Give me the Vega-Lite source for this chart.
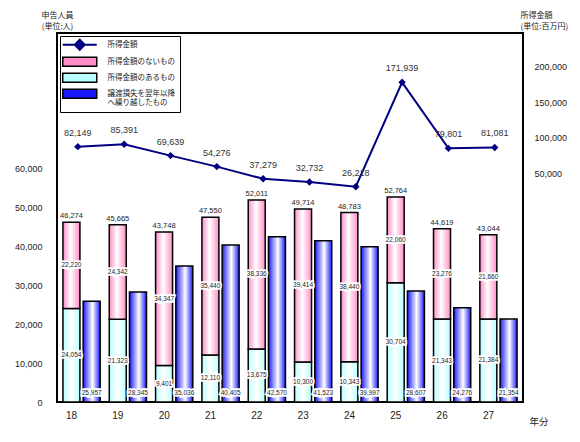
{
  "$schema": "https://vega.github.io/schema/vega-lite/v6.json",
  "width": 466,
  "height": 369,
  "autosize": {"type": "none"},
  "padding": {"left": 57, "top": 33, "right": 57, "bottom": 40},
  "background": "white",
  "config": {
    "view": {"stroke": "#000", "strokeWidth": 2},
    "axis": {"grid": false, "ticks": false, "domain": false, "labelFont": "Liberation Sans", "titleFont": "Noto Sans CJK JP", "labelColor": "#222", "titleColor": "#222", "titleFontWeight": "normal"},
    "axisX": {"labelOffset": -10, "labelAngle": 0, "labelPadding": 8, "labelFontSize": 10},
    "text": {"font": "Liberation Sans"}
  },
  "data": {
    "values": [
      {"year": "18", "has": 24054, "none": 22220, "total": 46274, "carry": 25957, "income": 82149},
      {"year": "19", "has": 21323, "none": 24342, "total": 45665, "carry": 28345, "income": 85391},
      {"year": "20", "has": 9401, "none": 34347, "total": 43748, "carry": 35036, "income": 69639},
      {"year": "21", "has": 12110, "none": 35440, "total": 47550, "carry": 40405, "income": 54276},
      {"year": "22", "has": 13675, "none": 38336, "total": 52011, "carry": 42570, "income": 37279},
      {"year": "23", "has": 10300, "none": 39414, "total": 49714, "carry": 41523, "income": 32732},
      {"year": "24", "has": 10343, "none": 38440, "total": 48783, "carry": 39997, "income": 26218},
      {"year": "25", "has": 30704, "none": 22060, "total": 52764, "carry": 28607, "income": 171939},
      {"year": "26", "has": 21343, "none": 23276, "total": 44619, "carry": 24276, "income": 79801},
      {"year": "27", "has": 21384, "none": 21660, "total": 43044, "carry": 21354, "income": 81081}
    ]
  },
  "layer": [
    {
      "layer": [
        {
          "mark": {"type": "bar", "stroke": "#000", "strokeWidth": 1.5,
            "fill": {"gradient": "linear", "x1": 0, "y1": 0, "x2": 1, "y2": 0, "stops": [{"offset": 0, "color": "#b8ffff"}, {"offset": 0.5, "color": "#ffffff"}, {"offset": 1, "color": "#b8ffff"}]}},
          "encoding": {
            "x": {"field": "year", "type": "nominal", "scale": {"type": "band", "paddingInner": 0, "paddingOuter": 0.03},
              "axis": {"title": "年分", "labelAngle": 0, "labelOffset": -10, "labelPadding": 8, "labelFontSize": 10,
                "titleX": 472, "titleY": 19, "titleAlign": "left", "titleBaseline": "middle", "titleFontSize": 9.5}},
            "xOffset": {"datum": "a", "scale": {"domain": ["a", "b"], "paddingInner": 0.16, "paddingOuter": 0.225}},
            "y": {"field": "has", "type": "quantitative", "scale": {"domain": [0, 95000], "nice": false},
              "axis": {"values": [0, 10000, 20000, 30000, 40000, 50000, 60000], "format": ",d", "labelPadding": 15, "labelFontSize": 9,
                "title": ["申告人員", "(単位:人)"], "titleAngle": 0, "titleAlign": "center", "titleBaseline": "top", "titleX": 0, "titleY": -22, "titleFontSize": 8, "titleLineHeight": 11}}
          }
        },
        {
          "mark": {"type": "bar", "stroke": "#000", "strokeWidth": 1.5,
            "fill": {"gradient": "linear", "x1": 0, "y1": 0, "x2": 1, "y2": 0, "stops": [{"offset": 0, "color": "#ff8cc6"}, {"offset": 0.45, "color": "#ffffff"}, {"offset": 1, "color": "#ff8cc6"}]}},
          "encoding": {
            "x": {"field": "year", "type": "nominal"},
            "xOffset": {"datum": "a"},
            "y": {"field": "total", "type": "quantitative",
              "axis": {"values": [0, 10000, 20000, 30000, 40000, 50000, 60000], "format": ",d", "labelPadding": 15, "labelFontSize": 9,
                "title": ["申告人員", "(単位:人)"], "titleAngle": 0, "titleAlign": "center", "titleBaseline": "top", "titleX": 0, "titleY": -22, "titleFontSize": 8, "titleLineHeight": 11}},
            "y2": {"field": "has"}
          }
        },
        {
          "mark": {"type": "bar", "stroke": "#000", "strokeWidth": 1.5,
            "fill": {"gradient": "linear", "x1": 0, "y1": 0, "x2": 1, "y2": 0, "stops": [{"offset": 0, "color": "#1a1aff"}, {"offset": 0.55, "color": "#ffffff"}, {"offset": 1, "color": "#1a1aff"}]}},
          "encoding": {
            "x": {"field": "year", "type": "nominal"},
            "xOffset": {"datum": "b"},
            "y": {"field": "carry", "type": "quantitative",
              "axis": {"values": [0, 10000, 20000, 30000, 40000, 50000, 60000], "format": ",d", "labelPadding": 15, "labelFontSize": 9,
                "title": ["申告人員", "(単位:人)"], "titleAngle": 0, "titleAlign": "center", "titleBaseline": "top", "titleX": 0, "titleY": -22, "titleFontSize": 8, "titleLineHeight": 11}}
          }
        },
        {
          "mark": {"type": "text", "fontSize": 7.5, "color": "#222", "baseline": "middle", "dy": -6},
          "encoding": {
            "x": {"field": "year", "type": "nominal"},
            "xOffset": {"datum": "a"},
            "y": {"field": "total", "type": "quantitative",
              "axis": {"values": [0, 10000, 20000, 30000, 40000, 50000, 60000], "format": ",d", "labelPadding": 15, "labelFontSize": 9,
                "title": ["申告人員", "(単位:人)"], "titleAngle": 0, "titleAlign": "center", "titleBaseline": "top", "titleX": 0, "titleY": -22, "titleFontSize": 8, "titleLineHeight": 11}},
            "text": {"field": "total", "type": "quantitative", "format": ","}
          }
        },
        {
          "transform": [{"calculate": "(datum.has + datum.total) / 2", "as": "pinkMid"}, {"calculate": "datum.has / 2", "as": "cyanMid"}],
          "layer": [
            {
              "mark": {"type": "text", "fontSize": 6.5, "fill": "#fff", "stroke": "#fff", "strokeWidth": 3.5, "baseline": "middle"},
              "encoding": {"x": {"field": "year", "type": "nominal"}, "xOffset": {"datum": "a"},
                "y": {"field": "pinkMid", "type": "quantitative",
                  "axis": {"values": [0, 10000, 20000, 30000, 40000, 50000, 60000], "format": ",d", "labelPadding": 15, "labelFontSize": 9,
                    "title": ["申告人員", "(単位:人)"], "titleAngle": 0, "titleAlign": "center", "titleBaseline": "top", "titleX": 0, "titleY": -22, "titleFontSize": 8, "titleLineHeight": 11}},
                "text": {"field": "none", "type": "quantitative", "format": ","}}
            },
            {
              "mark": {"type": "text", "fontSize": 6.5, "fill": "#222", "baseline": "middle"},
              "encoding": {"x": {"field": "year", "type": "nominal"}, "xOffset": {"datum": "a"},
                "y": {"field": "pinkMid", "type": "quantitative",
                  "axis": {"values": [0, 10000, 20000, 30000, 40000, 50000, 60000], "format": ",d", "labelPadding": 15, "labelFontSize": 9,
                    "title": ["申告人員", "(単位:人)"], "titleAngle": 0, "titleAlign": "center", "titleBaseline": "top", "titleX": 0, "titleY": -22, "titleFontSize": 8, "titleLineHeight": 11}},
                "text": {"field": "none", "type": "quantitative", "format": ","}}
            },
            {
              "mark": {"type": "text", "fontSize": 6.5, "fill": "#fff", "stroke": "#fff", "strokeWidth": 3.5, "baseline": "middle"},
              "encoding": {"x": {"field": "year", "type": "nominal"}, "xOffset": {"datum": "a"},
                "y": {"field": "cyanMid", "type": "quantitative",
                  "axis": {"values": [0, 10000, 20000, 30000, 40000, 50000, 60000], "format": ",d", "labelPadding": 15, "labelFontSize": 9,
                    "title": ["申告人員", "(単位:人)"], "titleAngle": 0, "titleAlign": "center", "titleBaseline": "top", "titleX": 0, "titleY": -22, "titleFontSize": 8, "titleLineHeight": 11}},
                "text": {"field": "has", "type": "quantitative", "format": ","}}
            },
            {
              "mark": {"type": "text", "fontSize": 6.5, "fill": "#222", "baseline": "middle"},
              "encoding": {"x": {"field": "year", "type": "nominal"}, "xOffset": {"datum": "a"},
                "y": {"field": "cyanMid", "type": "quantitative",
                  "axis": {"values": [0, 10000, 20000, 30000, 40000, 50000, 60000], "format": ",d", "labelPadding": 15, "labelFontSize": 9,
                    "title": ["申告人員", "(単位:人)"], "titleAngle": 0, "titleAlign": "center", "titleBaseline": "top", "titleX": 0, "titleY": -22, "titleFontSize": 8, "titleLineHeight": 11}},
                "text": {"field": "has", "type": "quantitative", "format": ","}}
            },
            {
              "mark": {"type": "text", "fontSize": 6.5, "fill": "#fff", "stroke": "#fff", "strokeWidth": 3.5, "baseline": "middle"},
              "encoding": {"x": {"field": "year", "type": "nominal"}, "xOffset": {"datum": "b"},
                "y": {"datum": 2200, "type": "quantitative",
                  "axis": {"values": [0, 10000, 20000, 30000, 40000, 50000, 60000], "format": ",d", "labelPadding": 15, "labelFontSize": 9,
                    "title": ["申告人員", "(単位:人)"], "titleAngle": 0, "titleAlign": "center", "titleBaseline": "top", "titleX": 0, "titleY": -22, "titleFontSize": 8, "titleLineHeight": 11}},
                "text": {"field": "carry", "type": "quantitative", "format": ","}}
            },
            {
              "mark": {"type": "text", "fontSize": 6.5, "fill": "#222", "baseline": "middle"},
              "encoding": {"x": {"field": "year", "type": "nominal"}, "xOffset": {"datum": "b"},
                "y": {"datum": 2200, "type": "quantitative",
                  "axis": {"values": [0, 10000, 20000, 30000, 40000, 50000, 60000], "format": ",d", "labelPadding": 15, "labelFontSize": 9,
                    "title": ["申告人員", "(単位:人)"], "titleAngle": 0, "titleAlign": "center", "titleBaseline": "top", "titleX": 0, "titleY": -22, "titleFontSize": 8, "titleLineHeight": 11}},
                "text": {"field": "carry", "type": "quantitative", "format": ","}}
            }
          ]
        },
        {
          "data": {"values": [{"series": "所得金額"}, {"series": "所得金額のないもの"}, {"series": "所得金額のあるもの"}, {"series": "譲渡損失を翌年以降へ繰り越したもの"}]},
          "mark": {"type": "square", "opacity": 0},
          "encoding": {
            "fill": {"field": "series", "type": "nominal",
              "scale": {"domain": ["所得金額", "所得金額のないもの", "所得金額のあるもの", "譲渡損失を翌年以降へ繰り越したもの"], "range": ["#000080", "#ff8cc6", "#b8ffff", "#1a1aff"]},
              "legend": {
                "title": null, "orient": "none", "legendX": 3, "legendY": 3, "direction": "vertical", "padding": 5,
                "strokeColor": "#000", "fillColor": "#fff", "rowPadding": 0, "symbolSize": 100, "symbolOffset": 11, "labelOffset": 24,
                "symbolType": "M-3.4,-0.9H3.4V0.9H-3.4Z", "symbolOpacity": 1, "symbolStrokeColor": "#000", "symbolStrokeWidth": 1.5,
                "labelFont": "Noto Sans CJK JP", "labelFontSize": 7.5, "labelColor": "#222", "labelLimit": 95,
                "labelExpr": "datum.label === '譲渡損失を翌年以降へ繰り越したもの' ? ['譲渡損失を翌年以降', 'へ繰り越したもの'] : datum.label",
                "encode": {
                  "symbols": {
                    "update": {
                      "opacity": {"value": 1},
                      "shape": {"signal": "datum.value === '所得金額' ? 'M-3.4,0H3.4M0,-1L1,0L0,1L-1,0Z' : 'M-3.4,-0.9H3.4V0.9H-3.4Z'"},
                      "fill": {"signal": "datum.value === '所得金額' ? '#000080' : datum.value === '所得金額のないもの' ? {gradient: 'linear', x1: 0, y1: 0, x2: 1, y2: 0, stops: [{offset: 0, color: '#ff8cc6'}, {offset: 0.5, color: '#ffffff'}, {offset: 1, color: '#ff8cc6'}]} : datum.value === '所得金額のあるもの' ? {gradient: 'linear', x1: 0, y1: 0, x2: 1, y2: 0, stops: [{offset: 0, color: '#b8ffff'}, {offset: 0.5, color: '#ffffff'}, {offset: 1, color: '#b8ffff'}]} : {gradient: 'linear', x1: 0, y1: 0, x2: 1, y2: 0, stops: [{offset: 0, color: '#1a1aff'}, {offset: 0.6, color: '#ffffff'}, {offset: 1, color: '#1a1aff'}]}"},
                      "stroke": {"signal": "datum.value === '所得金額' ? '#000080' : '#000'"},
                      "strokeWidth": {"signal": "datum.value === '所得金額' ? 2 : 1.5"}
                    }
                  }
                }
              }
            }
          }
        }
      ]
    },
    {
      "layer": [
        {
          "mark": {"type": "line", "color": "#000080", "strokeWidth": 2, "point": {"shape": "diamond", "size": 55, "filled": true, "color": "#000080"}},
          "encoding": {
            "x": {"field": "year", "type": "nominal", "bandPosition": 0.42},
            "y": {"field": "income", "type": "quantitative", "scale": {"domain": [-274300, 240800], "nice": false, "zero": false},
              "axis": {"orient": "right", "values": [50000, 100000, 150000, 200000], "format": ",d", "labelPadding": 11, "labelOffset": 4, "labelFontSize": 9,
                "title": ["所得金額", "(単位:百万円)"], "titleAngle": 0, "titleAlign": "left", "titleBaseline": "top", "titleX": -3, "titleY": -22, "titleFontSize": 8, "titleLineHeight": 11}}
          }
        },
        {
          "mark": {"type": "text", "fontSize": 9, "color": "#333", "baseline": "middle", "dy": -14},
          "encoding": {
            "x": {"field": "year", "type": "nominal", "bandPosition": 0.42},
            "y": {"field": "income", "type": "quantitative",
              "axis": {"orient": "right", "values": [50000, 100000, 150000, 200000], "format": ",d", "labelPadding": 11, "labelOffset": 4, "labelFontSize": 9,
                "title": ["所得金額", "(単位:百万円)"], "titleAngle": 0, "titleAlign": "left", "titleBaseline": "top", "titleX": -3, "titleY": -22, "titleFontSize": 8, "titleLineHeight": 11}},
            "text": {"field": "income", "type": "quantitative", "format": ","}
          }
        }
      ]
    }
  ],
  "resolve": {"scale": {"y": "independent"}, "axis": {"y": "independent"}}
}
